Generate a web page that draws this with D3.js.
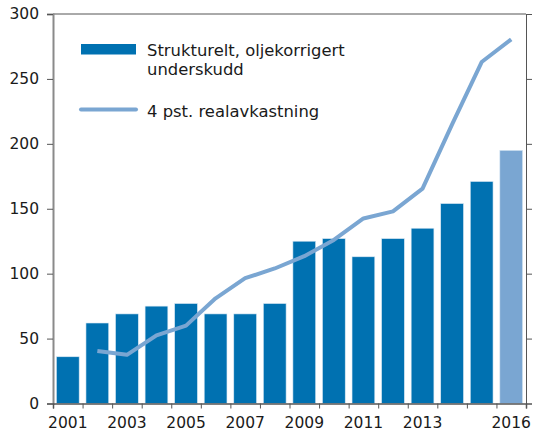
<!DOCTYPE html>
<html>
<head>
<meta charset="utf-8">
<script src="https://d3js.org/d3.v7.min.js"></script>
<style>
  body { margin: 0; background: #fff; }
  text { font-family: "DejaVu Sans", sans-serif; fill: #1a1a1a; }
</style>
</head>
<body>
<svg width="534" height="436" id="mainsvg"></svg>
<script>
const years = [2001, 2002, 2003, 2004, 2005, 2006, 2007, 2008,
               2009, 2010, 2011, 2012, 2013, 2014, 2015, 2016];
const underskudd = [36, 62, 69, 75, 77, 69, 69, 77,
                    125, 127, 113, 127, 135, 154, 171, 195];
const realavkastning = [null, 40.5, 37.5, 52.5, 60, 81, 96.5, 104,
                        113.5, 126, 142.5, 148, 165.5, 215, 263, 280.5];
const yTicks = [0, 50, 100, 150, 200, 250, 300];
const xLabels = [2001, 2003, 2005, 2007, 2009, 2011, 2013, 2016];
const legendLabels = [["Strukturelt, oljekorrigert", "underskudd"], ["4 pst. realavkastning"]];

const svg = d3.select('#mainsvg');
const margin = {top: 14, left: 53, right: 8, bottom: 32.5};
const width = +svg.attr('width');
const height = +svg.attr('height');
const innerWidth = width - margin.left - margin.right;
const innerHeight = height - margin.top - margin.bottom;

const g = svg.append('g')
    .attr('transform', `translate(${margin.left},${margin.top})`);

const xScale = d3.scaleBand()
    .domain(years)
    .range([0, innerWidth])
    .paddingInner(0.23)
    .paddingOuter(0.115);

const yScale = d3.scaleLinear()
    .domain([0, 300])
    .range([innerHeight, 0]);

// bars
g.selectAll('.bar').data(years).join('rect')
    .attr('class', 'bar')
    .attr('x', d => xScale(d))
    .attr('width', xScale.bandwidth())
    .attr('y', (d, i) => yScale(underskudd[i]))
    .attr('height', (d, i) => innerHeight - yScale(underskudd[i]))
    .attr('fill', d => d === 2016 ? '#7aa6d2' : '#0071b1')
    .attr('stroke', '#d9e8f4')
    .attr('stroke-width', 0.6);

// line
const line = d3.line()
    .defined(d => d.v !== null)
    .x(d => xScale(d.year) + xScale.bandwidth() / 2)
    .y(d => yScale(d.v));

g.append('path')
    .datum(years.map((y, i) => ({year: y, v: realavkastning[i]})))
    .attr('d', line)
    .attr('fill', 'none')
    .attr('stroke', '#7aa6d2')
    .attr('stroke-width', 4)
    .attr('stroke-linejoin', 'round');

// frame top
g.append('line')
    .attr('x1', 0).attr('x2', innerWidth)
    .attr('y1', 0).attr('y2', 0)
    .attr('stroke', '#555').attr('stroke-width', 1);

// left axis
const yAxis = d3.axisLeft(yScale).tickValues(yTicks).tickSize(6).tickPadding(8);
const ya = g.append('g').call(yAxis);
ya.select('.domain').attr('stroke', '#8a8a8a').attr('stroke-width', 2);
ya.selectAll('.tick line').attr('stroke', '#555');
ya.selectAll('.tick text').attr('font-size', 15.5).attr('fill', '#1a1a1a');

// right axis
const yAxisR = d3.axisRight(yScale).tickValues(yTicks).tickSize(6).tickFormat('');
const yr = g.append('g').attr('transform', `translate(${innerWidth},0)`).call(yAxisR);
yr.select('.domain').attr('stroke', '#555').attr('stroke-width', 1);
yr.selectAll('.tick line').attr('stroke', '#555');

// bottom axis: ticks between bars
const edgeScale = d3.scaleLinear().domain([0, years.length]).range([0, innerWidth]);
const xAxisTicks = d3.axisBottom(edgeScale).ticks(years.length).tickSize(5).tickFormat('');
const xb = g.append('g').attr('transform', `translate(0,${innerHeight})`).call(xAxisTicks);
xb.select('.domain').attr('stroke', '#555').attr('stroke-width', 1.5);
xb.selectAll('.tick line').attr('stroke', '#555');

// bottom labels
const xAxisLabels = d3.axisBottom(xScale).tickValues(xLabels).tickSize(0).tickPadding(13);
const xl = g.append('g').attr('transform', `translate(0,${innerHeight})`).call(xAxisLabels);
xl.select('.domain').remove();
xl.selectAll('.tick text').attr('font-size', 15.5).attr('fill', '#1a1a1a');

// legend
svg.append('rect')
    .attr('x', 81).attr('y', 44).attr('width', 55).attr('height', 10.5)
    .attr('fill', '#0071b1');
svg.append('line')
    .attr('x1', 81).attr('x2', 136).attr('y1', 109.5).attr('y2', 109.5)
    .attr('stroke', '#7aa6d2').attr('stroke-width', 4).attr('stroke-linecap', 'round');

const lt = svg.append('text').attr('font-size', 16.4);
legendLabels[0].forEach((s, i) => {
    lt.append('tspan').attr('x', 147).attr('y', 56 + i * 18.5).text(s);
});
svg.append('text').attr('font-size', 16.4)
    .attr('x', 147).attr('y', 116.5).text(legendLabels[1][0]);
</script>
</body>
</html>
